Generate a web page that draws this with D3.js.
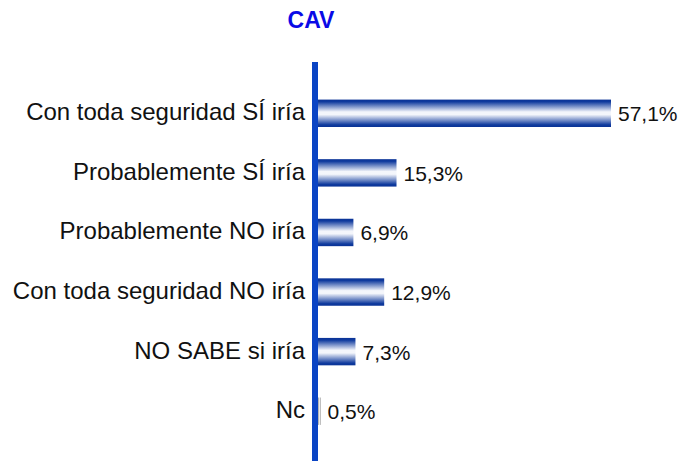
<!DOCTYPE html>
<html><head><meta charset="utf-8">
<script src="https://cdn.jsdelivr.net/npm/d3@7"></script>
<style>body{margin:0;background:#fff}svg{display:block}text{font-family:"Liberation Sans",Arial,sans-serif}</style>
</head><body>
<svg id="c" width="682" height="461"></svg>
<script>
const title = "CAV";
const categories = ["Con toda seguridad SÍ iría","Probablemente SÍ iría","Probablemente NO iría","Con toda seguridad NO iría","NO SABE si iría","Nc"];
const values = [57.1, 15.3, 6.9, 12.9, 7.3, 0.5];
const valueLabels = ["57,1%","15,3%","6,9%","12,9%","7,3%","0,5%"];

const svg = d3.select("#c");
const x0 = 318;
const x = d3.scaleLinear().domain([0, 57.1]).range([x0, 611]);
const y = d3.scaleBand().domain(categories).range([83.5, 441]).paddingInner(0.54).paddingOuter(0.27);

const defs = svg.append("defs");
const g = defs.append("linearGradient").attr("id","bg").attr("x1",0).attr("y1",0).attr("x2",0).attr("y2",1);
[[0,"#0a3396"],[0.08,"#0f3a9e"],[0.45,"#f4f6fb"],[0.55,"#f4f6fb"],[0.92,"#0f3a9e"],[1,"#0a3396"]].forEach(([o,c])=>g.append("stop").attr("offset",o).attr("stop-color",c));
const g2 = defs.append("linearGradient").attr("id","bg2").attr("x1",0).attr("y1",0).attr("x2",1).attr("y2",0);
[[0,"#888888"],[0.5,"#ffffff"],[1,"#888888"]].forEach(([o,c])=>g2.append("stop").attr("offset",o).attr("stop-color",c));

svg.append("text").attr("x",311).attr("y",28).attr("text-anchor","middle")
  .attr("font-size",23).attr("font-weight","bold").attr("fill","#0a0ae6").text(title);

svg.selectAll("rect.bar").data(values).join("rect").attr("class","bar")
  .attr("x", x0).attr("y",(d,i)=>y(categories[i]))
  .attr("width", d=>x(d)-x0).attr("height", y.bandwidth())
  .attr("fill", d=> d < 1 ? "url(#bg2)" : "url(#bg)");

svg.selectAll("text.val").data(values).join("text").attr("class","val")
  .attr("x", d=>x(d)+7).attr("y",(d,i)=>y(categories[i])+y.bandwidth()/2+8)
  .attr("font-size",21).attr("fill","#111").text((d,i)=>valueLabels[i]);

svg.selectAll("text.cat").data(categories).join("text").attr("class","cat")
  .attr("x",305).attr("y",d=>y(d)+y.bandwidth()/2+7)
  .attr("text-anchor","end").attr("font-size",24).attr("fill","#111").text(d=>d);

svg.append("line").attr("x1",315).attr("x2",315).attr("y1",62).attr("y2",461)
  .attr("stroke","#0a44c4").attr("stroke-width",6);
</script>
</body></html>
